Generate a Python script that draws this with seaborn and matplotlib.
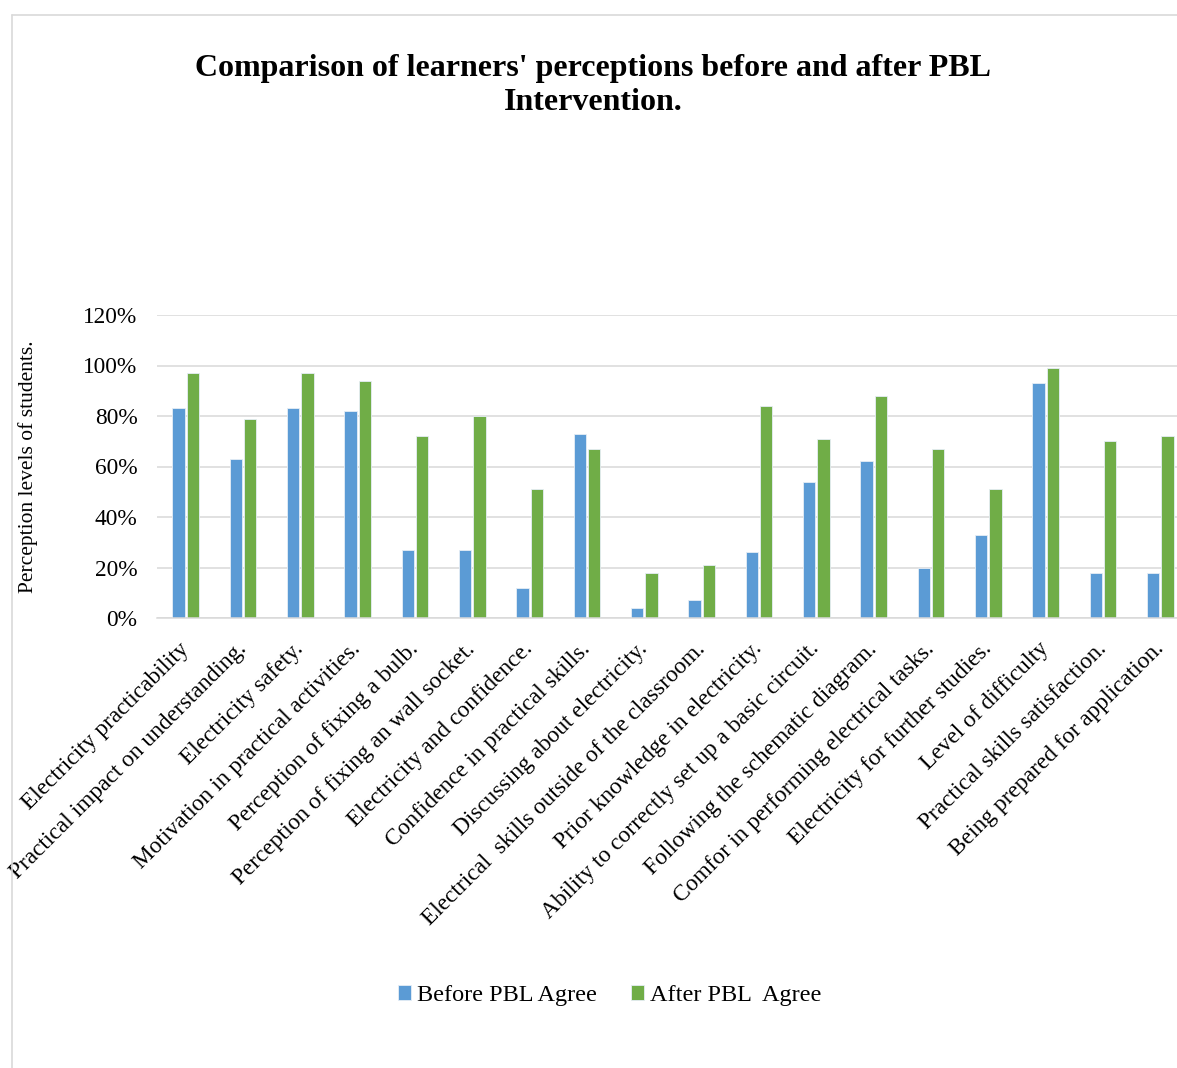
import pandas as pd
import matplotlib
matplotlib.use("Agg")
import matplotlib.pyplot as plt
from matplotlib.lines import Line2D
from matplotlib.ticker import PercentFormatter
import seaborn as sns

items = [
    "Electricity practicability",
    "Practical impact on understanding.",
    "Electricity safety.",
    "Motivation in practical activities.",
    "Perception of fixing a bulb.",
    "Perception of fixing an wall socket.",
    "Electricity and confidence.",
    "Confidence in practical skills.",
    "Discussing about electricity.",
    "Electrical  skills outside of the classroom.",
    "Prior knowledge in electricity.",
    "Ability to correctly set up a basic circuit.",
    "Following the schematic diagram.",
    "Comfor in performing electrical tasks.",
    "Electricity for further studies.",
    "Level of difficulty",
    "Practical skills satisfaction.",
    "Being prepared for application.",
]
before_agree = [83, 63, 83, 82, 27, 27, 12, 73, 4, 7, 26, 54, 62, 20, 33, 93, 18, 18]
after_agree = [97, 79, 97, 94, 72, 80, 51, 67, 18, 21, 84, 71, 88, 67, 51, 99, 70, 72]
series_names = ["Before PBL Agree", "After PBL  Agree"]
colors = ["#5B9BD5", "#70AD47"]

df = pd.DataFrame({
    "item": items * 2,
    "value": before_agree + after_agree,
    "period": [series_names[0]] * len(items) + [series_names[1]] * len(items),
})

sns.set_style("white")
plt.rcParams["font.family"] = ["Liberation Serif", "DejaVu Serif"]
plt.rcParams["text.color"] = "black"
plt.rcParams["axes.labelcolor"] = "black"
plt.rcParams["xtick.color"] = "black"
plt.rcParams["ytick.color"] = "black"

W, H = 1177, 1068
fig = plt.figure(figsize=(W / 100, H / 100), dpi=100)
# plot area runs past the right edge, like the cropped original
ax = fig.add_axes([157 / W, 1 - 618 / H, (1189 - 157) / W, (618 - 315) / H])

sns.barplot(data=df, x="item", y="value", hue="period", palette=colors,
            width=0.5, gap=0.12, saturation=1, edgecolor="#e6eef6",
            linewidth=0.6, ax=ax)

ax.set_ylim(0, 120)
ax.set_yticks(range(0, 121, 20))
ax.yaxis.set_major_formatter(PercentFormatter(100, decimals=0))
ax.grid(axis="y", color="#d9d9d9", linewidth=1.1)
ax.set_axisbelow(True)
for s in ["top", "right", "left"]:
    ax.spines[s].set_visible(False)
ax.spines["bottom"].set_color("#d9d9d9")
ax.spines["bottom"].set_linewidth(1.1)
ax.tick_params(axis="y", length=0, pad=14, labelsize=16.8)
ax.tick_params(axis="x", length=0, pad=20, labelsize=16.8)
plt.setp(ax.get_xticklabels(), rotation=45, ha="right", va="center",
         rotation_mode="anchor")
ax.set_xlabel("")
ax.set_ylabel("")
fig.text(28.5 / W, 1 - 467 / H, "Perception levels of students.",
         rotation=90, ha="center", va="center", fontsize=15.5)

ax.legend(loc="center", bbox_to_anchor=(0.518, 0.068),
          bbox_transform=fig.transFigure, ncol=2, frameon=False,
          fontsize=17.5, handlelength=0.55, handleheight=0.55,
          handletextpad=0.25, columnspacing=1.4)

fig.text(0.504, 1 - 85.5 / H,
         "Comparison of learners' perceptions before and after PBL\nIntervention.",
         ha="center", va="center", fontsize=23, fontweight="bold",
         linespacing=1.25)

# chart frame (left and top edges visible)
fig.add_artist(Line2D([12 / W, 12 / W], [0, 1 - 15 / H], color="#d9d9d9",
                      linewidth=1.2, transform=fig.transFigure))
fig.add_artist(Line2D([12 / W, 1], [1 - 15 / H, 1 - 15 / H], color="#d9d9d9",
                      linewidth=1.2, transform=fig.transFigure))

fig.savefig("out.png", dpi=100, facecolor="white")
